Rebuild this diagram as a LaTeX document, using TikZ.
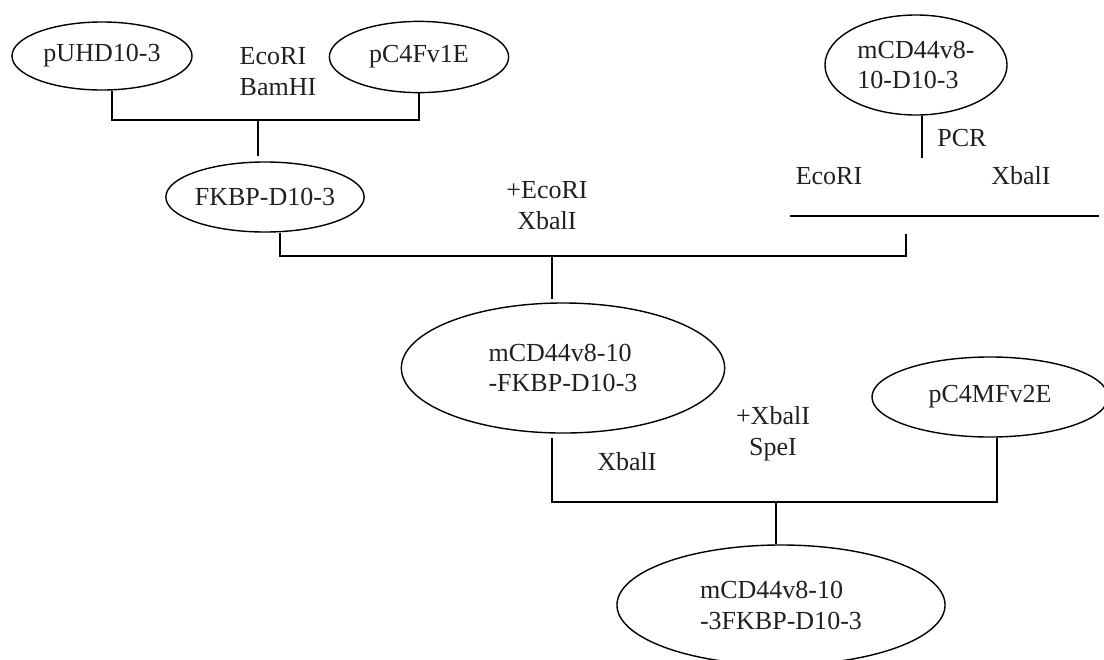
\documentclass[tikz,border=0pt]{standalone}
\usepackage{fontspec}
\setmainfont{Liberation Serif}
\usepackage{tikz}
\usetikzlibrary{shapes.geometric,calc}
\definecolor{inkgray}{RGB}{35,31,32}

\begin{document}
\begin{tikzpicture}[
  x=0.025cm, y=-0.025cm,
  every node/.style={font=\fontsize{18.5}{22}\selectfont, text=inkgray},
  plasmid/.style={draw=black, ellipse, line width=1pt, inner sep=0pt, align=left},
  enzyme/.style={align=center, inner sep=0pt},
  wire/.style={draw=black, line width=0.9pt}
]
  \useasboundingbox (0,0) rectangle (1104,659);

  \node[plasmid, minimum width=4.5cm, minimum height=1.7cm] (puhd) at (102,56) {pUHD10-3};
  \node[plasmid, minimum width=4.48cm, minimum height=1.78cm] (pcfv) at (419,57) {pC4Fv1E};
  \node[enzyme, align=left] (cutA) at (278,72) {EcoRI\\BamHI};

  \node[plasmid, minimum width=4.5cm, minimum height=1.75cm] (fkbp) at (265,197) {FKBP-D10-3};
  \node[enzyme] (cutB) at (547,206) {+EcoRI\\XbalI};

  \node[plasmid, minimum width=4.55cm, minimum height=2.5cm] (cdpcr) at (916,65) {mCD44v8-\\10-D10-3};
  \node[enzyme] (pcr) at (962,138) {PCR};
  \node[enzyme] (cutL) at (829,176) {EcoRI};
  \node[enzyme] (cutR) at (1021,176) {XbalI};

  \node[plasmid, minimum width=8.08cm, minimum height=3.25cm] (fusion) at (563,368) {mCD44v8-10\\-FKBP-D10-3};
  \node[plasmid, minimum width=5.9cm, minimum height=2cm] (pcmf) at (990,397) {pC4MFv2E};
  \node[enzyme] (cutC) at (627,462) {XbalI};
  \node[enzyme] (cutD) at (773,434) {+XbalI\\SpeI};

  \node[plasmid, minimum width=8.2cm, minimum height=3cm] (final) at (781,605) {mCD44v8-10\\-3FKBP-D10-3};

  \coordinate (busA) at (258,120);
  \coordinate (busB) at (552,256);
  \coordinate (busC) at (776,502);
  \coordinate (pcrTip) at (922,158);
  \coordinate (pcrEnd) at (906,234);
  \coordinate (prodL) at (790,216);
  \coordinate (prodR) at (1099,216);

  \draw[wire] ([xshift=0.25cm]puhd.south) |- (busA) -| (pcfv.south);
  \draw[wire, shorten >=0.12cm] (busA) -- (busA |- fkbp.north);

  \draw[wire] (cdpcr.south -| pcrTip) -- (pcrTip);
  \draw[wire] (prodL) -- (prodR);

  \draw[wire] ([xshift=0.375cm]fkbp.south) |- (busB) -| (pcrEnd);
  \draw[wire, shorten >=0.08cm] (busB) -- (busB |- fusion.north);

  \draw[wire, shorten <=0.1cm] ([xshift=-0.275cm]fusion.south) |- (busC) -| ([xshift=0.175cm]pcmf.south);
  \draw[wire] (busC) -- (busC |- final.north);
\end{tikzpicture}
\end{document}
